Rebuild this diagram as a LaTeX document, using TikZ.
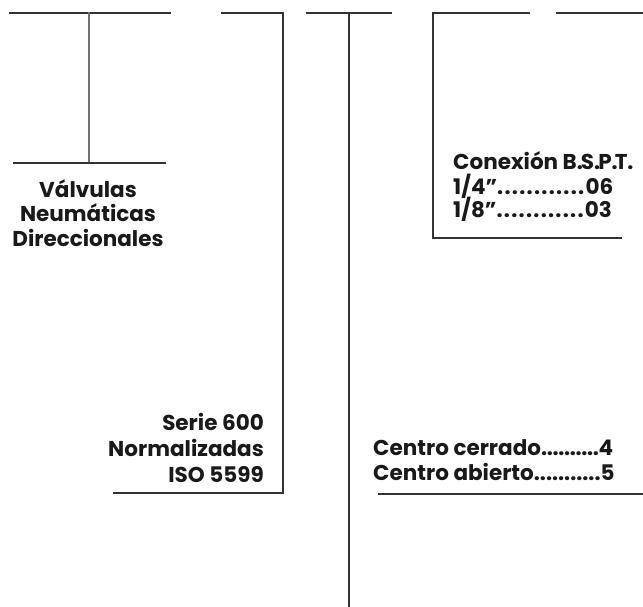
\documentclass[tikz,border=0pt]{standalone}
\usepackage{fontspec}
\setmainfont{Poppins}
\newcommand\mydots[2]{\foreach \i in {1,...,#1}{.\kern#2}}
\begin{document}
\begin{tikzpicture}[x=1pt,y=-1pt,
  ln/.style={draw=black!80,line width=1.3pt},
  lg/.style={draw=black!55,line width=1.3pt},
  lbl/.style={inner sep=0pt,font=\fontsize{21.5}{25}\selectfont\bfseries,text=black!90}]
\useasboundingbox (0,0) rectangle (643,607);
% left T
\coordinate (a1) at (9,13); \coordinate (a2) at (171,13);
\coordinate (b1) at (89,12); \coordinate (b2) at (89,163);
\coordinate (c1) at (13,163); \coordinate (c2) at (166,163);
\draw[ln] (a1) -- (a2);
\draw[lg] (b1) -- (b2);
\draw[ln] (c1) -- (c2);
% second bracket
\coordinate (d1) at (221,13); \coordinate (d2) at (283,13);
\coordinate (d3) at (283,493); \coordinate (d4) at (113,493);
\draw[ln] (d1) -- (d2) -- (d3) -- (d4);
% central line
\coordinate (e1) at (306,13); \coordinate (e2) at (392,13);
\coordinate (f1) at (349,13); \coordinate (f2) at (349,607);
\draw[ln] (e1) -- (e2);
\draw[ln] (f1) -- (f2);
% box
\coordinate (g1) at (530,13); \coordinate (g2) at (433,13);
\coordinate (g3) at (433,238); \coordinate (g4) at (622,238);
\draw[ln] (g1) -- (g2) -- (g3) -- (g4);
\coordinate (h1) at (556,13); \coordinate (h2) at (643,13);
\draw[ln] (h1) -- (h2);
% bottom right line
\coordinate (k1) at (378,494); \coordinate (k2) at (643,494);
\draw[ln] (k1) -- (k2);
% texts
\node[lbl,anchor=base] (t1) at (88,197) {Válvulas};
\node[lbl,anchor=base] (t2) at (88,222) {Neumáticas};
\node[lbl,anchor=base] (t3) at (88,247) {Direccionales};
\node[lbl,anchor=base east] (s1) at (264,430) {Serie 600};
\node[lbl,anchor=base east] (s2) at (264,456) {Normalizadas};
\node[lbl,anchor=base east] (s3) at (264,482) {ISO 5599};
\node[lbl,anchor=base west] (c1t) at (453,170) {Conexión B.\kern-2pt S.\kern-2pt P.\kern-3pt T.};
\node[lbl,anchor=base west] (c2t) at (453,194) {1/4”\mydots{12}{1.3pt}06};
\node[lbl,anchor=base west] (c3t) at (453,218) {1/8”\mydots{12}{1.3pt}03};
\node[lbl,anchor=base west] (r1) at (373,455) {Centro cerrado\mydots{10}{-0.3pt}4};
\node[lbl,anchor=base west] (r2) at (373,480) {Centro abierto\mydots{11}{0pt}5};
\end{tikzpicture}
\end{document}
